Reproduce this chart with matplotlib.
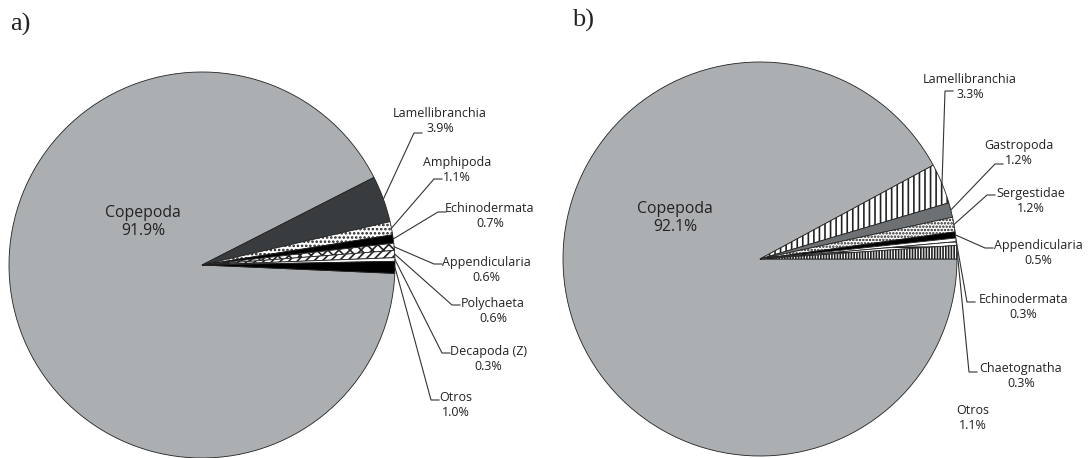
# 两个饼图：a) 与 b) 两个站点的浮游动物类群组成
import numpy as np
import matplotlib.pyplot as plt

plt.rcParams['font.family'] = ['Open Sans', 'DejaVu Sans']
plt.rcParams['hatch.linewidth'] = 1.2

W, H = 1089, 458

# ---- 数据 ----
taxa_a = ['Copepoda', 'Lamellibranchia', 'Amphipoda', 'Echinodermata',
          'Appendicularia', 'Polychaeta', 'Decapoda (Z)', 'Otros']
pct_a = [91.9, 3.9, 1.1, 0.7, 0.6, 0.6, 0.3, 1.0]

taxa_b = ['Copepoda', 'Lamellibranchia', 'Gastropoda', 'Sergestidae',
          'Appendicularia', 'Echinodermata', 'Chaetognatha', 'Otros']
pct_b = [92.1, 3.3, 1.2, 1.2, 0.5, 0.3, 0.3, 1.1]

# ---- 样式 ----
face_a = ['#abafb2', '#393c3e', 'white', 'black', 'white', 'white', 'white', 'black']
hatch_a = [None, None, '....', None, 'xxx', '////', None, None]
face_b = ['#abafb2', 'white', '#6d7174', 'white', 'black', 'white', 'white', 'white']
hatch_b = [None, '|||', None, '.....', None, None, '---', '||||||']

# ---- 布局（像素坐标，y 向下）----
center_a, radius_a, start_a = (202, 265), 193, -2.5
center_b, radius_b, start_b = (760, 259), 197, 0.0

# 标签中心, 引线终点 (None 表示无引线)
text_a = [(143, 222), (440, 121), (457, 170), (490, 216),
          (486, 270), (493, 311), (488, 359), (456, 405)]
anchor_a = [None, (422, 133), (442, 179), (446, 212),
            (442, 264), (460, 305), (450, 353), (439, 400)]
text_b = [(675, 218), (970, 87), (1019, 153), (1031, 201),
          (1038, 253), (1023, 307), (1021, 376), (973, 418)]
anchor_b = [None, (953, 91), (1003, 164), (995, 195),
            (993, 248), (975, 302), (977, 372), None]


def fy(py):
    return H - py


fig = plt.figure(figsize=(W / 100, H / 100), dpi=100)
ax = fig.add_axes([0, 0, 1, 1])


def draw_pie(values, names, faces, hatches, center, radius, start, texts, anchors):
    c = (center[0], fy(center[1]))
    wedges, _ = ax.pie(values, colors=faces, startangle=start, counterclock=False,
                       center=c, radius=radius,
                       wedgeprops=dict(edgecolor='#222222', linewidth=0.6))
    for w, h in zip(wedges, hatches):
        if h:
            w.set_hatch(h)
    for i, (w, name, v) in enumerate(zip(wedges, names, values)):
        tx, ty = texts[i]
        big = i == 0
        ax.text(tx, fy(ty), f'{name}\n{v:.1f}%', ha='center', va='center',
                multialignment='center', color='#222222',
                fontsize=11.3 if big else 9.0, linespacing=1.15)
        if anchors[i] is None:
            continue
        mid = np.deg2rad((w.theta1 + w.theta2) / 2)
        x0 = c[0] + radius * np.cos(mid)
        y0 = c[1] + radius * np.sin(mid)
        axx, ayy = anchors[i]
        ax.plot([x0, axx - 8, axx], [y0, fy(ayy), fy(ayy)],
                color='#333333', lw=0.8, solid_joinstyle='miter')


draw_pie(pct_a, taxa_a, face_a, hatch_a, center_a, radius_a, start_a, text_a, anchor_a)
draw_pie(pct_b, taxa_b, face_b, hatch_b, center_b, radius_b, start_b, text_b, anchor_b)

ax.set_xlim(0, W)
ax.set_ylim(0, H)
ax.set_aspect('equal')
ax.axis('off')

fig.text(10 / W, 1 - 24 / H, 'a)', family='Liberation Serif', fontsize=19,
         va='center', ha='left', color='#222222')
fig.text(572 / W, 1 - 20 / H, 'b)', family='Liberation Serif', fontsize=19,
         va='center', ha='left', color='#222222')

fig.savefig('out.png', dpi=100, facecolor='white')
